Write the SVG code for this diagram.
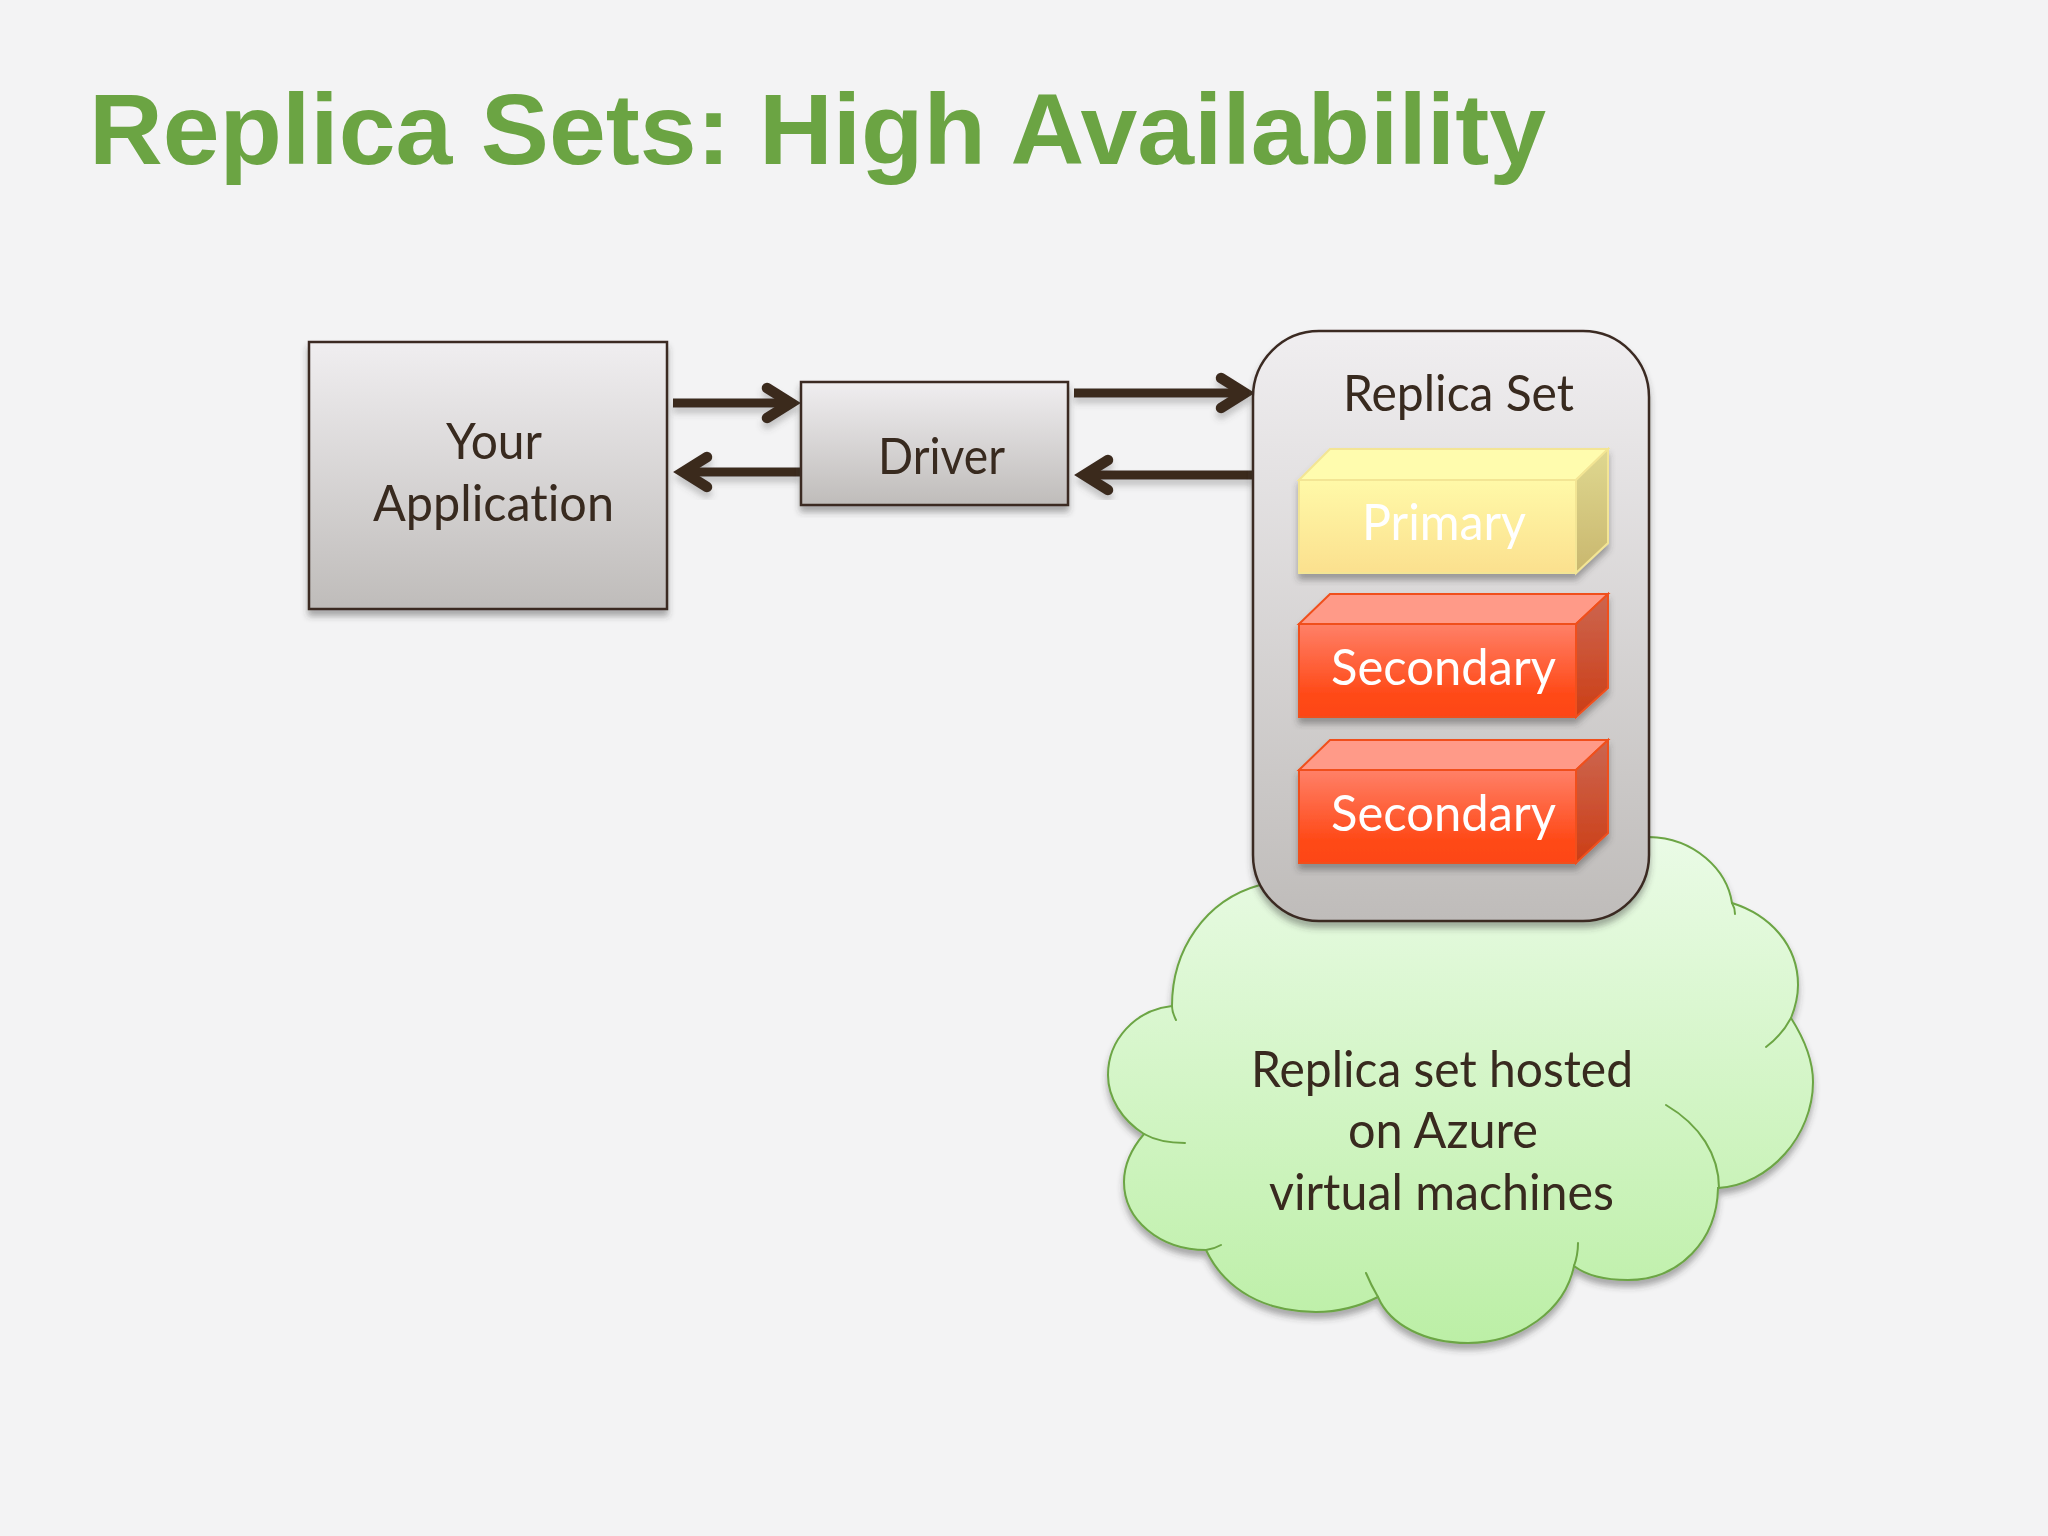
<svg xmlns="http://www.w3.org/2000/svg" width="2048" height="1536" viewBox="0 0 2048 1536">
<style>
.t{font-family:"Lato","Open Sans","Liberation Sans",sans-serif;font-weight:400;font-size:50px;fill:#382a1f;font-variant-ligatures:none}
.w{fill:#fff;font-weight:400}
.title{font-family:"Liberation Sans",Arial,sans-serif;font-weight:700;font-size:100px;fill:#6ba443}
.gbox{stroke:#3b2a22;stroke-width:2.5;fill:url(#gray)}
.conn{fill:none;stroke:#3b2a1f;stroke-width:9}
.tail{fill:none;stroke:#6ca544;stroke-width:2;stroke-linecap:round}
</style>
<defs>
<linearGradient id="gray" x1="0" y1="0" x2="0" y2="1"><stop offset="0" stop-color="#f0eef0"/><stop offset="1" stop-color="#bfbcba"/></linearGradient>
<linearGradient id="cloudG" x1="0" y1="0" x2="0" y2="1"><stop offset="0" stop-color="#eafbe6"/><stop offset="1" stop-color="#bcefa6"/></linearGradient>
<linearGradient id="yF" x1="0" y1="0" x2="0" y2="1"><stop offset="0" stop-color="#fff9a8"/><stop offset="1" stop-color="#fbe08e"/></linearGradient>
<linearGradient id="yS" x1="0" y1="0" x2="0" y2="1"><stop offset="0" stop-color="#dfd890"/><stop offset="1" stop-color="#c9b76e"/></linearGradient>
<linearGradient id="rF" x1="0" y1="0" x2="0" y2="1"><stop offset="0" stop-color="#ff8068"/><stop offset="0.75" stop-color="#ff4a18"/><stop offset="1" stop-color="#fd4512"/></linearGradient>
<linearGradient id="rS" x1="0" y1="0" x2="0" y2="1"><stop offset="0" stop-color="#cc6650"/><stop offset="1" stop-color="#cc3e16"/></linearGradient>
<filter id="sh" x="-10%" y="-10%" width="120%" height="120%"><feDropShadow dx="0" dy="6" stdDeviation="3" flood-color="#3a3a3a" flood-opacity="0.4"/></filter>
<filter id="shA" x="-10%" y="-30%" width="120%" height="160%"><feDropShadow dx="0" dy="6" stdDeviation="3" flood-color="#555" flood-opacity="0.3"/></filter>
<marker id="open" markerUnits="userSpaceOnUse" markerWidth="60" markerHeight="60" refX="40" refY="30" orient="auto" overflow="visible">
<path d="M16 15 L40 30 L16 45" fill="none" stroke="#3b2a1f" stroke-width="10.5" stroke-linecap="round"/>
</marker>
</defs>
<rect width="2048" height="1536" fill="#f3f3f4"/>
<text class="title" x="89" y="164" textLength="1457" lengthAdjust="spacingAndGlyphs">Replica Sets: High Availability</text>
<g id="cloud">
<path filter="url(#sh)" fill="url(#cloudG)" stroke="#6ca544" stroke-width="2" d="M1649 837C1695 838 1727 870 1732 903C1770 915 1798 945 1798 985C1798 998 1795 1008 1791 1018C1805 1040 1813 1060 1813 1082C1813 1135 1770 1185 1718 1188C1717 1240 1680 1280 1628 1280C1605 1280 1587 1276 1574 1266C1565 1310 1520 1343 1468 1343C1425 1343 1390 1325 1378 1297C1360 1306 1340 1312 1316 1312C1265 1312 1225 1290 1206 1250C1160 1250 1124 1220 1124 1182C1124 1163 1132 1148 1144 1134C1122 1120 1108 1098 1108 1075C1108 1040 1135 1010 1172 1006C1172 950 1205 900 1260 885L1450 860Z"/>
<path class="tail" d="M1732 903Q1735 908 1735 914M1791 1018Q1782 1035 1766 1047M1666 1105C1700 1125 1719 1155 1719 1188M1574 1266Q1578 1255 1578 1243M1378 1297Q1371 1285 1366 1273M1206 1250Q1214 1249 1221 1245M1144 1134Q1160 1143 1185 1143M1172 1006Q1172 1012 1176 1020"/>
<text class="t" x="1251" y="1087" textLength="382" lengthAdjust="spacingAndGlyphs">Replica set hosted</text>
<text class="t" x="1348" y="1148" textLength="190" lengthAdjust="spacingAndGlyphs">on Azure</text>
<text class="t" x="1269" y="1210" textLength="345" lengthAdjust="spacingAndGlyphs">virtual machines</text>
</g>
<g id="connectors" filter="url(#shA)">
<path class="conn" marker-end="url(#open)" d="M673 403H791"/>
<path class="conn" marker-end="url(#open)" d="M800 472H683"/>
<path class="conn" marker-end="url(#open)" d="M1074 393H1245"/>
<path class="conn" marker-end="url(#open)" d="M1253 475H1084"/>
</g>
<g id="your-application">
<rect class="gbox" filter="url(#sh)" x="309" y="342" width="358" height="267"/>
<text class="t" x="446" y="459" textLength="96" lengthAdjust="spacingAndGlyphs">Your</text>
<text class="t" x="373" y="521" textLength="241" lengthAdjust="spacingAndGlyphs">Application</text>
</g>
<g id="driver">
<rect class="gbox" filter="url(#sh)" x="801" y="382" width="267" height="123"/>
<text class="t" x="878" y="474" textLength="127" lengthAdjust="spacingAndGlyphs">Driver</text>
</g>
<g id="replica-set">
<rect class="gbox" filter="url(#sh)" x="1253" y="331" width="396" height="590" rx="66" ry="66"/>
<text class="t" x="1343" y="411" textLength="231" lengthAdjust="spacingAndGlyphs">Replica Set</text>
</g>
<g id="primary" filter="url(#sh)">
<path fill="#fffcae" stroke="#f3e594" stroke-width="2" d="M1299 480L1330 449H1608L1576 480Z"/>
<path fill="url(#yS)" stroke="#f3e594" stroke-width="2" d="M1576 480L1608 449V543L1576 573Z"/>
<rect fill="url(#yF)" stroke="#f3e594" stroke-width="2" x="1299" y="480" width="277" height="93"/>
<text class="t w" x="1362" y="540" textLength="164" lengthAdjust="spacingAndGlyphs">Primary</text>
</g>
<g id="secondary-1" filter="url(#sh)">
<path fill="#ff9a88" stroke="#f0501c" stroke-width="2" d="M1299 624L1330 594H1608L1576 624Z"/>
<path fill="url(#rS)" stroke="#f0501c" stroke-width="2" d="M1576 624L1608 594V688L1576 717Z"/>
<rect fill="url(#rF)" stroke="#f0501c" stroke-width="2" x="1299" y="624" width="277" height="93"/>
<text class="t w" x="1331" y="685" textLength="225" lengthAdjust="spacingAndGlyphs">Secondary</text>
</g>
<g id="secondary-2" filter="url(#sh)">
<path fill="#ff9a88" stroke="#f0501c" stroke-width="2" d="M1299 770L1330 740H1608L1576 770Z"/>
<path fill="url(#rS)" stroke="#f0501c" stroke-width="2" d="M1576 770L1608 740V833L1576 863Z"/>
<rect fill="url(#rF)" stroke="#f0501c" stroke-width="2" x="1299" y="770" width="277" height="93"/>
<text class="t w" x="1331" y="831" textLength="225" lengthAdjust="spacingAndGlyphs">Secondary</text>
</g>
</svg>
